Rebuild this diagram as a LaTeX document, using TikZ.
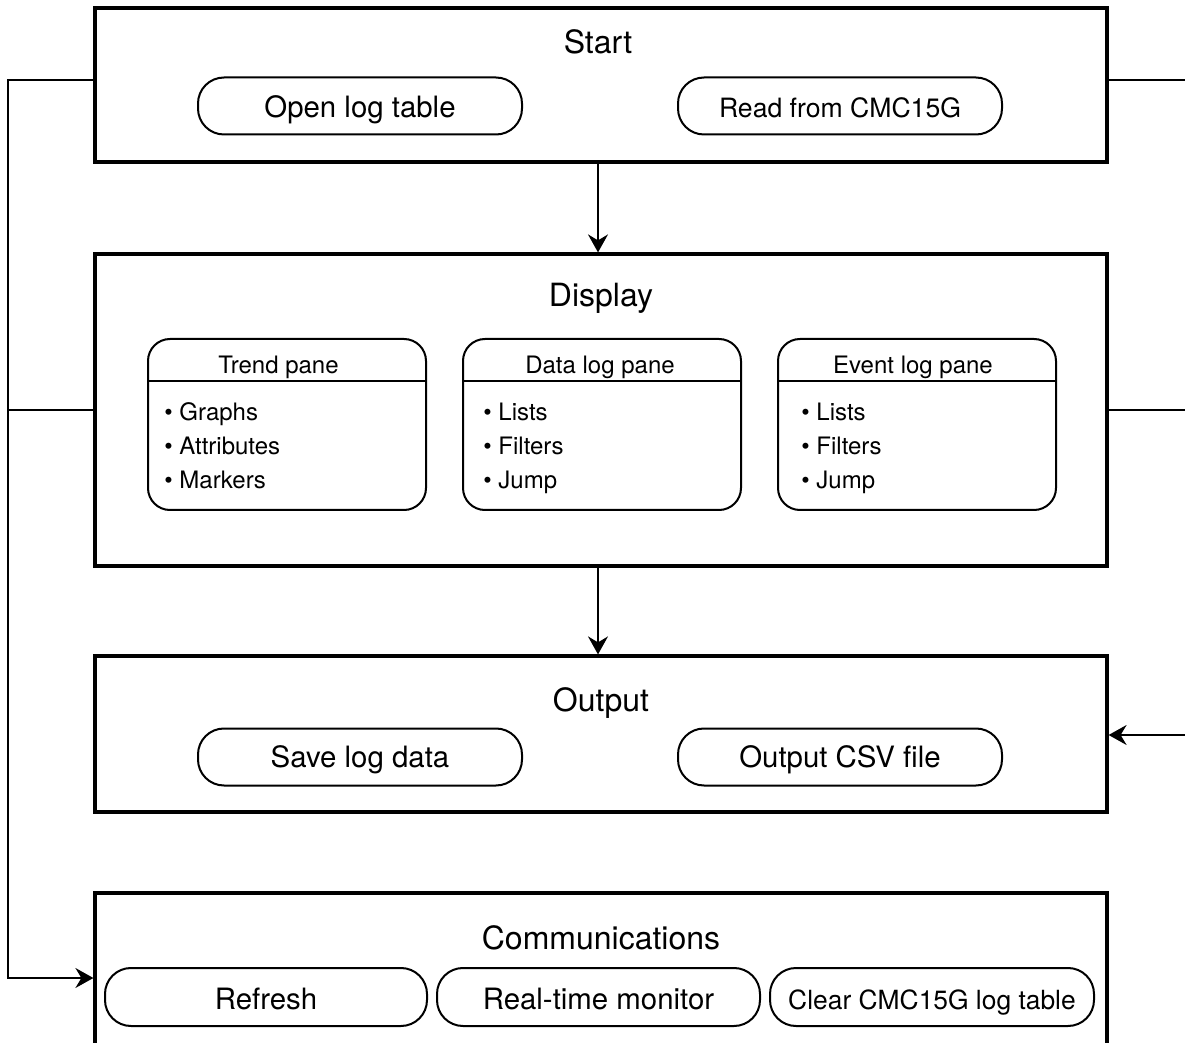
\documentclass[tikz,border=0pt]{standalone}
\usepackage{fontspec}
\setmainfont{TeX Gyre Heros}
\usetikzlibrary{arrows.meta,calc}
\newcommand\paneitem[1]{\strut• #1}

\begin{document}
\begin{tikzpicture}[x=0.5pt, y=-0.5pt,
  panel/.style={draw, line width=1.6pt, minimum width=506pt},
  pill/.style={draw, line width=1pt, rounded corners=13pt, minimum width=162pt, minimum height=28.5pt, text height=12pt, text depth=0pt, font=\fontsize{14.7}{17}\selectfont},
  pane/.style={draw, line width=1pt, rounded corners=11pt, minimum width=139pt, minimum height=85.5pt},
  title/.style={text height=11.5pt, text depth=0pt, font=\fontsize{16}{18}\selectfont},
  panetitle/.style={text height=8.6pt, text depth=0pt, font=\fontsize{12}{14}\selectfont},
  items/.style={anchor=west, inner sep=0pt, align=left, font=\fontsize{12}{17}\selectfont},
  link/.style={line width=1pt},
  arrow/.style={link, -{Stealth[length=9pt, width=10pt, inset=3pt]}}]
\clip (0,0) rectangle (1185,1043);

% Start
\node[panel, minimum height=77pt] (start) at (601,85) {};
\node[title] (starttitle) at (598,42) {Start};
\node[pill] (openlog) at (360,106) {Open log table};
\node[pill, font=\fontsize{13.3}{16}\selectfont] (readcmc) at (840,106) {Read from CMC15G};

% Display
\node[panel, minimum height=156pt] (display) at (601,410) {};
\node[title] (displaytitle) at (601,295.5) {Display};
\node[pane] (trend) at (287,424.5) {};
\node[pane] (datalog) at (602,424.5) {};
\node[pane] (eventlog) at (917,424.5) {};
\foreach \p/\t/\dx in {trend/Trend pane/-4.25, datalog/Data log pane/-1, eventlog/Event log pane/-2} {
  \draw[link] (\p.west |- 0,381) -- (\p.east |- 0,381);
  \node[panetitle] at ([xshift=\dx pt]\p.center |- 0,364.5) {\t};
}
\node[items] (trenditems) at ([xshift=8.5pt,yshift=-11.8pt]trend.west) {\paneitem{Graphs}\\\paneitem{Attributes}\\\paneitem{Markers}};
\node[items] (datalogitems) at ([xshift=10.5pt,yshift=-11.8pt]datalog.west) {\paneitem{Lists}\\\paneitem{Filters}\\\paneitem{Jump}};
\node[items] (eventlogitems) at ([xshift=12pt,yshift=-11.8pt]eventlog.west) {\paneitem{Lists}\\\paneitem{Filters}\\\paneitem{Jump}};

% Output
\node[panel, minimum height=78pt] (output) at (601,734) {};
\node[title] (outputtitle) at (601,700) {Output};
\node[pill, text height=10.3pt] (savelog) at (360,757) {Save log data};
\node[pill, text height=10.3pt] (outcsv) at (840,757) {Output CSV file};

% Communications
\node[panel, minimum height=100pt] (comms) at (601,993) {};
\node[title] (commstitle) at (601,938) {Communications};
\node[pill, minimum width=161pt, minimum height=29pt] (refresh) at (266,997) {Refresh};
\node[pill, minimum width=161.5pt, minimum height=29pt] (realtime) at (598.5,997) {Real-time monitor};
\node[pill, minimum width=162pt, minimum height=29pt, font=\fontsize{13.2}{16}\selectfont] (clearlog) at (932,997) {Clear CMC15G log table};

% connectors
\coordinate (busN) at (8,80);
\coordinate (busS) at (8,978);
\coordinate (edgeN) at (1185,80);
\coordinate (edgeS) at (1185,735);
\draw[arrow] (start.south -| 598,0) -- (display.north -| 598,0);
\draw[arrow] (display.south -| 598,0) -- (output.north -| 598,0);
\draw[arrow] (start.west |- busN) -- (busN) -- (busS) -- (comms.west |- busS);
\draw[link] (display.west) -- (busN |- display.west);
\draw[link] (start.east |- edgeN) -- (edgeN);
\draw[link] (display.east) -- (edgeN |- display.east);
\draw[arrow] (edgeS) -- (output.east |- edgeS);
\end{tikzpicture}
\end{document}
